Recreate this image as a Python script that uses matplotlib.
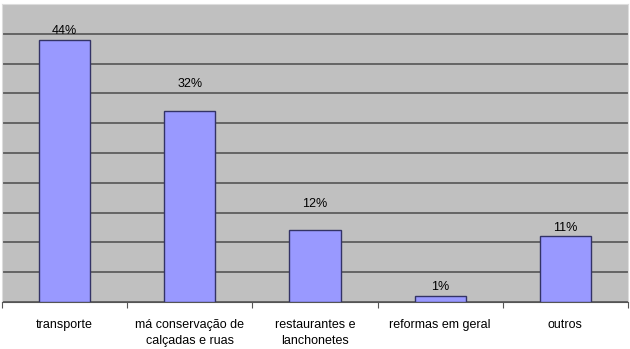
import matplotlib.pyplot as plt

categories = ["transporte", "má conservação de\ncalçadas e ruas", "restaurantes e\nlanchonetes",
              "reformas em geral", "outros"]
values = [44, 32, 12, 1, 11]
labels = ["44%", "32%", "12%", "1%", "11%"]
label_pad = [2, 15, 15, 2, 2]  # points above bar top (labels were moved by hand in the original)

plt.rcParams['font.family'] = ['Liberation Sans', 'DejaVu Sans']

fig = plt.figure(figsize=(6.3, 3.49), dpi=100)
ax = fig.add_axes([2/630, 1 - 302/349, 626/630, 298/349])
ax.set_facecolor("#c0c0c0")

x = range(len(categories))
ax.bar(x, values, width=0.41, color="#9999ff", edgecolor="#333366", linewidth=1, zorder=3)

for i, v in enumerate(values):
    ax.annotate(labels[i], (i, v), xytext=(0, label_pad[i]), textcoords="offset points",
                ha="center", va="bottom", fontsize=9)

ax.set_xlim(-0.5, len(categories) - 0.5)
ax.set_ylim(0, 50)
ax.set_yticks(range(0, 51, 5))
ax.yaxis.grid(True, color="#555555", linewidth=1.2, zorder=1)
ax.tick_params(axis="y", length=0, labelleft=False)

# category boundary ticks
ax.set_xticks([i + 0.5 for i in range(-1, len(categories))])
ax.set_xticklabels([])
ax.set_xticks(list(x), minor=True)
ax.set_xticklabels(categories, minor=True, fontsize=9, linespacing=1.45)
ax.tick_params(axis="x", which="major", length=4, color="#555555")
ax.tick_params(axis="x", which="minor", length=0, pad=12)

for side in ["top", "right"]:
    ax.spines[side].set_color("#dddddd")
ax.spines["left"].set_color("#dddddd")
ax.spines["bottom"].set_color("#555555")

fig.savefig("out.png", dpi=100)
